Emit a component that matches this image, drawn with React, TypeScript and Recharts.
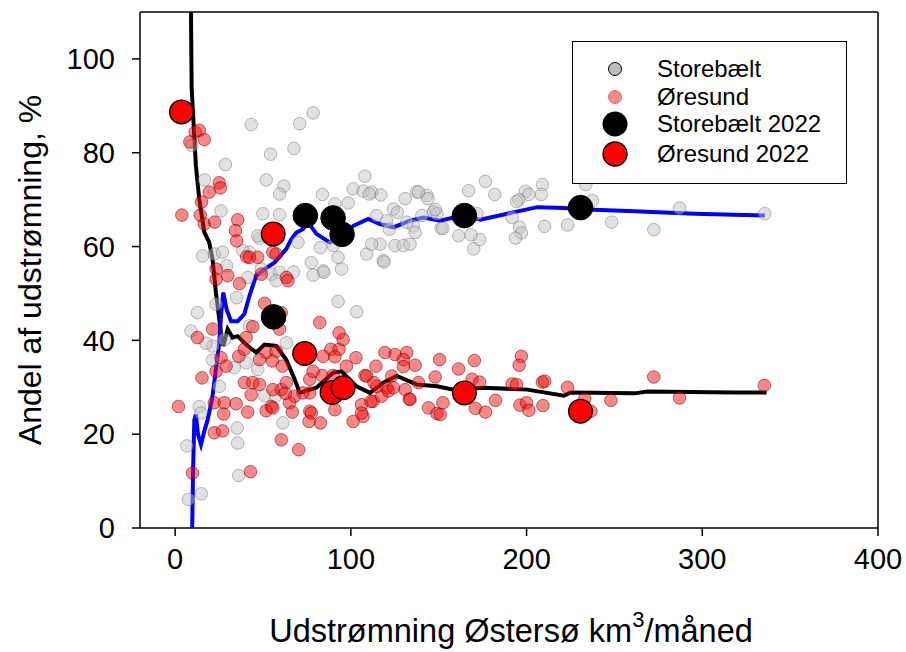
import React from 'react';
import { ScatterChart, Scatter, XAxis, YAxis, ReferenceLine, Legend } from 'recharts';

const FONT = '"Liberation Sans", Arial, Helvetica, sans-serif';

const xTicks = [0, 100, 200, 300, 400];
const yTicks = [0, 20, 40, 60, 80, 100];

const seriesNames = ['Storebælt', 'Øresund', 'Storebælt 2022', 'Øresund 2022'];
const xTitle = ['Udstrømning Østersø km', '3', '/måned'];
const yTitle = 'Andel af udstrømning, %';

// Storebælt monthly points [udstrømning, andel]
const storebaelt: number[][] = [
  [43.3, 86.0], [70.9, 86.2], [78.5, 88.5], [54.3, 79.7], [67.6, 80.9], [28.6, 77.5], [51.8, 74.2], [61.9, 72.9],
  [59.4, 71.2], [16.7, 74.2], [26.1, 67.6], [49.9, 67.0], [59.4, 66.8], [83.8, 71.1], [90.9, 69.1], [98.5, 69.3],
  [101.3, 72.3], [108.0, 75.0], [107.0, 71.8], [111.8, 71.6], [117.1, 71.0], [130.9, 70.2], [137.5, 71.7], [124.2, 68.0],
  [114.7, 66.6], [120.4, 65.5], [135.6, 64.4], [82.7, 59.8], [92.7, 57.7], [77.5, 56.6], [69.9, 60.9], [48.0, 61.8],
  [42.3, 58.8], [15.6, 58.0], [22.3, 58.4], [27.0, 58.8], [109.0, 58.4], [116.6, 60.5], [118.5, 57.0], [125.1, 60.2],
  [129.9, 60.2], [133.7, 60.5], [84.2, 54.8], [94.7, 55.2], [9.5, 81.6], [47.0, 62.3], [38.5, 59.1], [29.3, 55.9],
  [41.3, 53.4], [49.0, 55.2], [54.7, 54.1], [59.4, 54.5], [67.4, 54.6], [57.5, 52.7], [35.0, 49.1], [23.3, 47.7],
  [12.7, 45.9], [9.0, 42.0], [42.3, 43.1], [21.3, 38.8], [28.0, 40.2], [33.7, 34.2], [47.0, 33.8], [63.3, 39.5],
  [25.1, 30.2], [50.9, 28.2], [13.7, 25.9], [17.5, 39.4], [21.3, 35.8], [35.6, 18.1], [36.2, 11.2], [6.7, 17.5],
  [14.9, 7.3], [7.6, 6.1], [92.7, 48.3], [103.3, 46.1], [57.1, 28.1], [61.3, 22.4], [40.4, 35.2], [14.7, 24.5],
  [35.3, 21.3], [84.6, 54.5], [78.5, 53.9], [118.9, 56.7], [110.5, 71.2], [143.3, 70.9], [143.8, 70.2], [126.5, 67.3],
  [131.8, 65.2], [136.6, 63.0], [140.4, 66.6], [147.0, 67.4], [149.0, 67.0], [151.3, 63.9], [121.9, 63.7], [111.8, 60.5],
  [89.9, 60.2], [176.6, 73.9], [167.0, 71.9], [181.9, 71.1], [209.0, 73.2], [208.4, 71.1], [199.4, 71.8], [201.3, 71.1],
  [195.6, 70.0], [194.3, 69.6], [191.8, 66.2], [196.0, 64.1], [197.0, 62.9], [193.7, 61.8], [210.3, 64.3], [223.3, 64.6],
  [233.7, 73.2], [237.5, 69.8], [248.4, 65.2], [272.4, 63.6], [287.0, 68.2], [169.9, 59.5], [173.3, 61.5], [168.4, 62.5],
  [161.3, 62.3], [152.4, 63.9], [171.8, 67.0], [335.6, 67.0], [138.5, 71.6], [148.0, 67.9],
];

// Øresund monthly points [udstrømning, andel]
const oresund: number[][] = [
  [11.4, 84.4], [13.7, 84.8], [16.6, 82.8], [8.4, 82.3], [25.1, 73.6], [25.7, 72.5], [19.4, 71.6], [15.0, 69.5],
  [3.8, 66.7], [14.3, 66.7], [16.6, 64.8], [22.5, 65.2], [35.6, 65.7], [34.3, 63.4], [35.0, 61.2], [40.7, 57.8],
  [47.0, 57.7], [23.3, 55.2], [29.9, 53.8], [55.6, 58.8], [63.3, 53.4], [23.3, 53.0], [36.6, 52.1], [42.3, 57.7],
  [57.5, 58.4], [50.9, 47.9], [60.4, 45.9], [59.4, 42.4], [21.3, 42.4], [12.7, 40.6], [44.2, 42.9], [40.4, 40.6],
  [26.1, 36.3], [36.2, 36.6], [39.4, 38.1], [51.8, 37.4], [57.5, 37.7], [48.0, 35.9], [55.3, 35.6], [61.0, 34.5],
  [23.3, 33.4], [15.3, 32.0], [29.0, 34.5], [39.4, 31.0], [44.2, 31.0], [48.0, 30.6], [60.4, 29.5], [63.3, 31.0],
  [43.3, 28.4], [55.6, 29.5], [1.9, 25.9], [22.3, 26.7], [28.0, 26.7], [34.7, 26.5], [54.7, 25.9], [65.1, 26.7],
  [68.0, 28.1], [27.6, 24.3], [22.3, 20.3], [27.0, 20.7], [9.9, 11.7], [42.9, 12.0], [60.4, 18.8], [70.3, 16.7],
  [41.3, 24.7], [51.8, 25.0], [55.6, 25.6], [66.7, 24.7], [76.6, 24.9], [82.7, 22.4], [76.2, 22.7], [62.7, 28.7],
  [76.6, 31.7], [83.8, 32.5], [88.6, 38.1], [93.3, 38.1], [95.6, 40.2], [93.3, 41.6], [82.3, 43.8], [102.9, 36.3],
  [97.5, 34.5], [108.0, 32.5], [114.3, 34.5], [119.4, 37.4], [125.1, 37.0], [131.8, 37.4], [129.9, 35.9], [136.6, 34.7],
  [113.1, 31.0], [120.4, 29.9], [130.9, 29.5], [133.3, 27.5], [112.7, 27.0], [106.1, 26.3], [107.0, 23.8], [101.3, 22.7],
  [90.9, 25.2], [87.0, 28.8], [76.6, 28.8], [64.2, 52.7], [49.0, 54.1], [84.2, 36.6], [72.7, 28.8], [77.5, 24.5],
  [111.4, 27.0], [117.5, 28.1], [121.3, 29.2], [114.7, 30.2], [109.0, 32.4], [123.3, 32.4], [124.2, 29.9], [133.7, 27.4],
  [138.5, 31.0], [144.2, 25.6], [149.0, 24.4], [152.4, 26.7], [150.5, 35.9], [148.0, 32.2], [161.3, 33.9], [170.3, 35.7],
  [169.0, 31.7], [173.3, 31.1], [150.9, 24.2], [170.9, 25.5], [176.6, 24.7], [182.3, 27.2], [191.8, 30.7], [194.3, 30.6],
  [197.0, 36.6], [195.8, 34.7], [209.0, 31.1], [210.3, 31.3], [223.3, 30.0], [196.2, 26.2], [200.0, 26.7], [201.3, 25.1],
  [209.3, 26.1], [233.1, 27.5], [236.6, 24.9], [248.0, 27.2], [272.4, 32.2], [287.0, 27.7], [335.3, 30.4], [90.9, 36.5],
  [78.5, 33.4], [89.9, 32.5], [106.1, 24.5], [129.9, 34.4],
];

// Running curves
const storebaeltCurve: number[][] = [
  [9.7, 0], [10.2, 12], [10.9, 23], [11.8, 24.2], [13.0, 20.0], [14.7, 17.8], [16.5, 20.5], [18.5, 23.1],
  [21.0, 27.4], [23.2, 33.8], [25.1, 39.5], [26.1, 45.2], [27.4, 50.2], [29.3, 46.6], [31.8, 44.1], [35.6, 44.1],
  [39.4, 45.6], [42.3, 49.5], [46.1, 53.8], [50.9, 55.2], [56.6, 56.6], [63.3, 59.5], [66.0, 61.5], [69.0, 63.0],
  [72.7, 63.7], [75.6, 65.2], [80.4, 62.7], [88.0, 60.9], [94.7, 62.3], [101.3, 64.4], [109.9, 65.9], [116.6, 64.8],
  [124.2, 64.1], [133.7, 65.5], [141.3, 66.2], [150.9, 65.5], [164.2, 66.7], [173.7, 65.7], [189.0, 67.0], [206.1, 68.4],
  [221.3, 68.2], [234.7, 67.9], [261.3, 67.5], [295.6, 67.0], [335.6, 66.6],
];
const oresundCurve: number[][] = [
  [9.0, 110], [9.4, 93.7], [11.8, 77.3], [13.7, 70.2], [16.6, 63.0], [19.4, 60.9], [21.3, 57.3], [23.2, 50.2],
  [26.1, 41.6], [27.4, 38.8], [29.9, 42.4], [32.7, 40.6], [35.6, 40.9], [40.4, 39.1], [46.1, 37.4], [50.9, 39.1],
  [57.5, 38.8], [63.2, 35.9], [68.0, 31.7], [70.9, 28.8], [80.4, 29.9], [89.9, 33.1], [94.7, 33.4], [103.2, 30.2],
  [110.9, 28.8], [118.5, 31.0], [126.1, 32.4], [137.5, 30.6], [149.0, 30.2], [158.5, 29.5], [175.6, 29.9], [200.4, 29.5],
  [221.3, 28.2], [225.1, 28.9], [261.3, 28.7], [268.9, 29.1], [318.5, 28.9], [336.6, 28.9],
];

const storebaelt2022: number[][] = [
  [56.0, 45.0], [74.1, 66.6], [89.9, 66.1], [95.0, 62.6], [164.6, 66.6], [230.7, 68.3],
];
const oresund2022: number[][] = [
  [3.6, 88.7], [55.8, 62.7], [73.7, 37.2], [89.3, 28.9], [95.6, 29.9], [164.6, 28.8], [230.7, 24.9],
];

const toXY = (arr: number[][]) => arr.map(([x, y]) => ({ x, y }));

const GreyDot = (p: any) => (
  <circle cx={p.cx} cy={p.cy} r={6.3} fill="#c4c4c4" fillOpacity={0.5} stroke="#5a5a5a" strokeOpacity={0.4} strokeWidth={1} />
);
const RedDot = (p: any) => (
  <circle cx={p.cx} cy={p.cy} r={6.3} fill="#ff1010" fillOpacity={0.5} stroke="#4a0000" strokeOpacity={0.5} strokeWidth={1} />
);
const BigBlack = (p: any) => (
  <circle cx={p.cx} cy={p.cy} r={12.3} fill="#000" stroke="#000" strokeWidth={1} />
);
const BigRed = (p: any) => (
  <circle cx={p.cx} cy={p.cy} r={11.8} fill="#ff0000" stroke="#000" strokeWidth={1.4} />
);
const NoDot = () => <g />;

const XTitle = (props: any) => {
  const vb = props.viewBox || { x: 140, y: 528, width: 738, height: 124 };
  return (
    <text x={vb.x + vb.width / 2 + 2} y={vb.y + 114} textAnchor="middle" fontFamily={FONT} fontSize={32.5} fill="#000">
      <tspan>{xTitle[0]}</tspan>
      <tspan dy={-15} fontSize={22}>{xTitle[1]}</tspan>
      <tspan dy={15}>{xTitle[2]}</tspan>
    </text>
  );
};

const YTitle = (props: any) => {
  const vb = props.viewBox || { x: 0, y: 12, width: 140, height: 516 };
  const cx = 41;
  const cy = vb.y + vb.height / 2;
  return (
    <text x={cx} y={cy} transform={`rotate(-90, ${cx}, ${cy})`} textAnchor="middle" fontFamily={FONT} fontSize={32} fill="#000">
      {yTitle}
    </text>
  );
};

const markerFor = (i: number) => {
  if (i === 0) return <circle cx={14} cy={14} r={6.5} fill="#bdbdbd" stroke="#000" strokeWidth={1} />;
  if (i === 1) return <circle cx={14} cy={14} r={6.5} fill="#f58a8a" stroke="#e06a6a" strokeWidth={1} />;
  if (i === 2) return <circle cx={14} cy={14} r={12.5} fill="#000" />;
  return <circle cx={14} cy={14} r={12} fill="#ff0000" stroke="#000" strokeWidth={1.3} />;
};

const rowCenters = [28, 56, 83, 113];

const LegendBox = () => (
  <div
    style={{
      width: 275,
      height: 143,
      border: '1.5px solid #000',
      boxSizing: 'border-box',
      background: '#fff',
      position: 'relative',
      fontFamily: FONT,
      fontSize: 24,
      color: '#000',
    }}
  >
    {seriesNames.map((name, i) => (
      <div key={name} style={{ position: 'absolute', left: 0, top: rowCenters[i] - 15, height: 28, width: 273 }}>
        <svg width={28} height={28} style={{ position: 'absolute', left: 28, top: 0, overflow: 'visible' }}>
          {markerFor(i)}
        </svg>
        <span style={{ position: 'absolute', left: 84, top: 0, lineHeight: '28px', whiteSpace: 'nowrap' }}>{name}</span>
      </div>
    ))}
  </div>
);

export default function App() {
  return (
    <div style={{ position: 'absolute', left: 0, top: 0, width: 906, height: 652, background: '#fff' }}>
      <ScatterChart width={906} height={652} margin={{ top: 12, right: 28, bottom: 0, left: 0 }}>
        <XAxis
          type="number"
          dataKey="x"
          domain={[-20, 400]}
          ticks={xTicks}
          interval={0}
          allowDataOverflow
          height={124}
          tickSize={8}
          tickMargin={12}
          axisLine={{ stroke: '#000', strokeWidth: 1.5 }}
          tickLine={{ stroke: '#000', strokeWidth: 1.5 }}
          tick={{ fill: '#000', fontSize: 29, fontFamily: FONT }}
          label={<XTitle />}
        />
        <YAxis
          type="number"
          dataKey="y"
          domain={[0, 110]}
          ticks={yTicks}
          interval={0}
          allowDataOverflow
          width={140}
          tickSize={8}
          tickMargin={17}
          axisLine={{ stroke: '#000', strokeWidth: 1.5 }}
          tickLine={{ stroke: '#000', strokeWidth: 1.5 }}
          tick={{ fill: '#000', fontSize: 29, fontFamily: FONT }}
          label={<YTitle />}
        />
        <ReferenceLine y={110} stroke="#000" strokeWidth={1.5} />
        <ReferenceLine x={400} stroke="#000" strokeWidth={1.5} />
        <Scatter data={toXY(oresundCurve)} line={{ stroke: '#000', strokeWidth: 4 }} shape={NoDot} isAnimationActive={false} />
        <Scatter data={toXY(storebaeltCurve)} line={{ stroke: '#0000ff', strokeWidth: 4 }} shape={NoDot} isAnimationActive={false} />
        <Scatter name={seriesNames[0]} data={toXY(storebaelt)} shape={GreyDot} isAnimationActive={false} />
        <Scatter name={seriesNames[1]} data={toXY(oresund)} shape={RedDot} isAnimationActive={false} />
        <Scatter name={seriesNames[2]} data={toXY(storebaelt2022)} shape={BigBlack} isAnimationActive={false} />
        <Scatter name={seriesNames[3]} data={toXY(oresund2022)} shape={BigRed} isAnimationActive={false} />
        <Legend
          layout="horizontal"
          verticalAlign="middle"
          align="center"
          content={() => <LegendBox />}
          wrapperStyle={{ position: 'absolute', left: 572, top: 41, width: 275, height: 143 }}
        />
      </ScatterChart>
    </div>
  );
}
